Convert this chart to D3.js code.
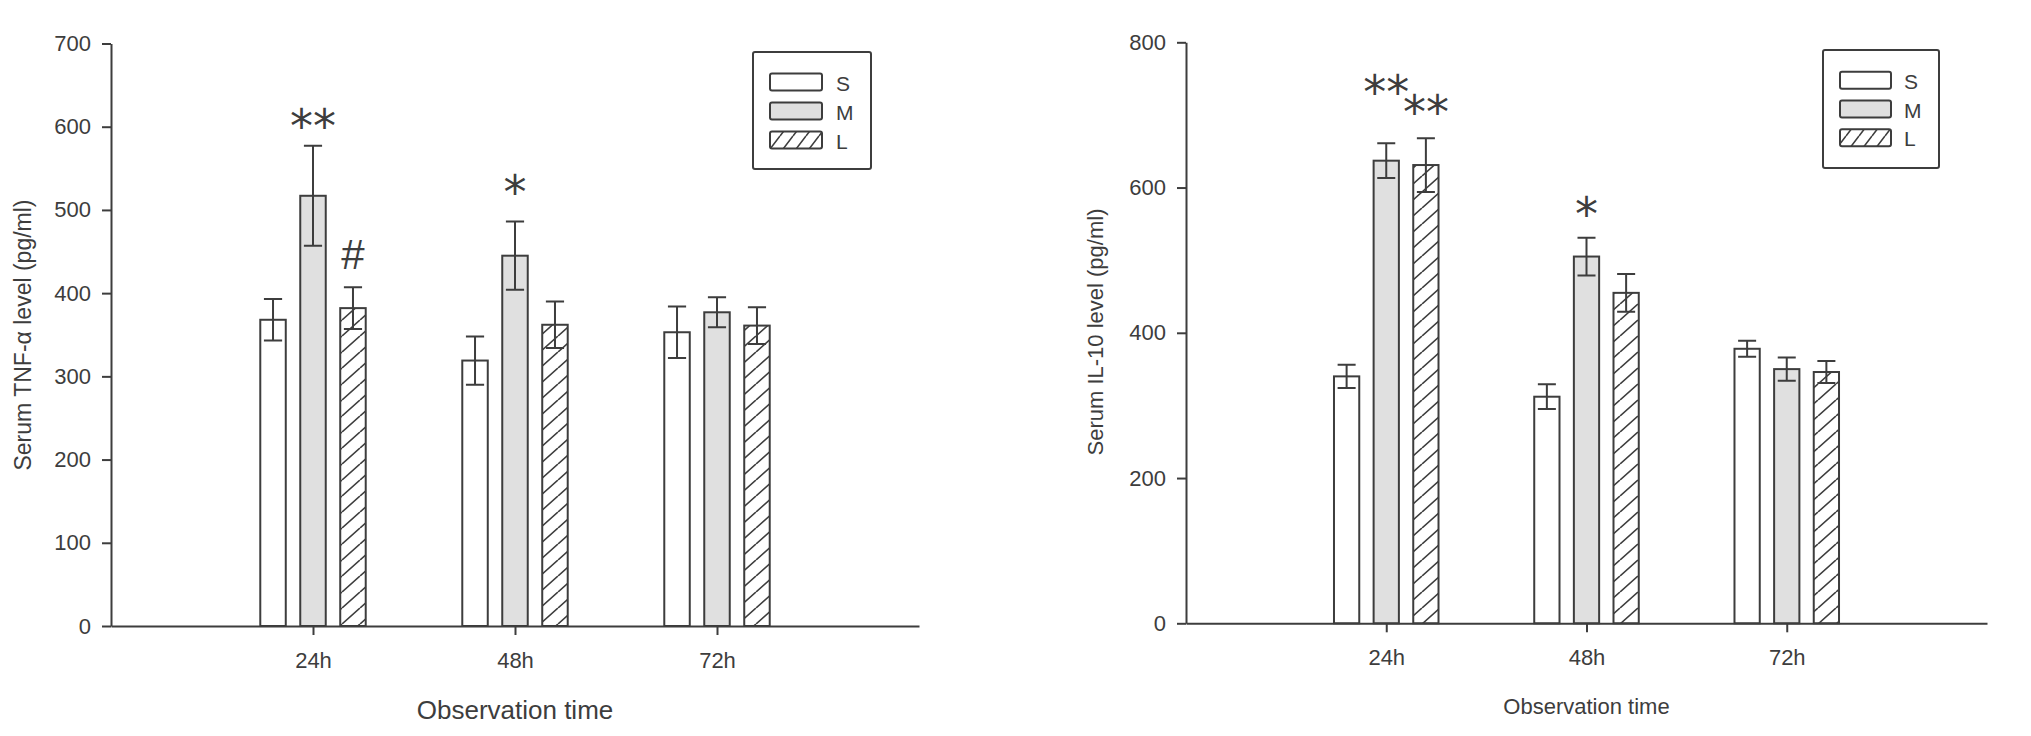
<!DOCTYPE html>
<html>
<head>
<meta charset="utf-8">
<script src="https://cdn.jsdelivr.net/npm/d3@7/dist/d3.min.js"></script>
<style>
  html, body { margin: 0; padding: 0; background: #fff; }
  svg { display: block; }
  text { font-family: "Liberation Sans", Arial, sans-serif; fill: #3d3d3d; }
</style>
</head>
<body>
<svg id="chart" width="2031" height="736"></svg>
<script>
// ---------------- data ----------------
const categories = ["24h", "48h", "72h"];
const groups = ["S", "M", "L"];

// Serum TNF-α (pg/ml)
const tnfS = [368, 319, 353];
const tnfSErr = [25, 29, 31];
const tnfM = [517, 445, 377];
const tnfMErr = [60, 41, 18];
const tnfL = [382, 362, 361];
const tnfLErr = [25, 28, 22];
const tnfTicks = [0, 100, 200, 300, 400, 500, 600, 700];
// significance marks: [category, group, symbol, level (pg/ml) of mark centre]
const tnfMarks = [["24h", "M", "**", 611], ["24h", "L", "#", 447], ["48h", "M", "*", 531]];

// Serum IL-10 (pg/ml)
const il10S = [340, 312, 378];
const il10SErr = [16, 17, 11];
const il10M = [637, 505, 350];
const il10MErr = [24, 26, 16];
const il10L = [631, 455, 346];
const il10LErr = [37, 26, 15];
const il10Ticks = [0, 200, 400, 600, 800];
const il10Marks = [["24h", "M", "**", 743], ["24h", "L", "**", 715], ["48h", "M", "*", 574]];

// ---------------- drawing ----------------
const svg = d3.select("#chart");
const INK = "#3d3d3d";
const GRAY = "#e0e0e0";

const defs = svg.append("defs");
const pat = defs.append("pattern")
  .attr("id", "hatch").attr("patternUnits", "userSpaceOnUse")
  .attr("width", 18).attr("height", 16);
pat.append("rect").attr("width", 18).attr("height", 16).attr("fill", "#fff");
pat.append("path")
  .attr("d", "M-18,16 L0,0 M0,16 L18,0 M18,16 L36,0")
  .attr("stroke", INK).attr("stroke-width", 1.6).attr("fill", "none");

const patL = defs.append("pattern")
  .attr("id", "hatchLeg").attr("patternUnits", "userSpaceOnUse")
  .attr("width", 13).attr("height", 17);
patL.append("rect").attr("width", 13).attr("height", 17).attr("fill", "#fff");
patL.append("path")
  .attr("d", "M-13,17 L0,0 M0,17 L13,0 M13,17 L26,0")
  .attr("stroke", INK).attr("stroke-width", 1.6).attr("fill", "none");

const fills = { S: "#fff", M: GRAY, L: "url(#hatch)" };
const legFills = { S: "#fff", M: GRAY, L: "url(#hatchLeg)" };

const measureCtx = document.createElement("canvas").getContext("2d");
function inkCenterBaseline(str, font, cy) {
  measureCtx.font = font;
  const m = measureCtx.measureText(str);
  return cy + (m.actualBoundingBoxAscent - m.actualBoundingBoxDescent) / 2;
}

function drawChart(cfg) {
  const g = svg.append("g");
  const x = d3.scaleLinear().domain([0, 4]).range(cfg.xRange);
  const y = d3.scaleLinear().domain([0, cfg.yMax]).range(cfg.yRange);
  const sub = d3.scaleBand().domain(groups).range([-0.261, 0.261]).paddingInner(0.3625);
  const bw = x(sub.bandwidth()) - x(0);
  const capHalf = 0.045;

  // bars
  cfg.series.forEach(s => {
    g.append("g").selectAll("rect").data(s.mean).join("rect")
      .attr("x", (d, i) => x(i + 1 + sub(s.key)))
      .attr("y", d => y(d))
      .attr("width", bw)
      .attr("height", d => y(0) - y(d))
      .attr("fill", fills[s.key])
      .attr("stroke", INK).attr("stroke-width", 2);
  });
  // error bars
  cfg.series.forEach(s => {
    const eg = g.append("g").attr("stroke", INK).attr("stroke-width", 2).attr("fill", "none");
    s.mean.forEach((m, i) => {
      const c = i + 1 + sub(s.key) + sub.bandwidth() / 2;
      const e = s.err[i];
      const p = d3.path();
      p.moveTo(x(c), y(m + e)); p.lineTo(x(c), y(m - e));
      p.moveTo(x(c - capHalf), y(m + e)); p.lineTo(x(c + capHalf), y(m + e));
      p.moveTo(x(c - capHalf), y(m - e)); p.lineTo(x(c + capHalf), y(m - e));
      eg.append("path").attr("d", p.toString());
    });
  });

  // axes
  const yAxis = g.append("g").attr("transform", `translate(${cfg.xRange[0]},0)`)
    .call(d3.axisLeft(y).tickValues(cfg.ticks).tickSize(9).tickPadding(11).tickSizeOuter(0));
  const xAxis = g.append("g").attr("transform", `translate(0,${cfg.yRange[0]})`)
    .call(d3.axisBottom(x).tickValues([1, 2, 3]).tickFormat(i => categories[i - 1])
      .tickSize(9).tickPadding(17).tickSizeOuter(0));
  [yAxis, xAxis].forEach(a => {
    a.selectAll("path.domain").attr("stroke", INK).attr("stroke-width", 2);
    a.selectAll(".tick line").attr("stroke", INK).attr("stroke-width", 2);
    a.selectAll(".tick text").attr("fill", INK).style("font-size", "22px")
      .style("font-family", "'Liberation Sans', Arial, sans-serif");
  });

  // axis titles
  g.append("text")
    .attr("transform", `translate(${cfg.yLabelX},${cfg.yLabelY}) rotate(-90)`)
    .attr("text-anchor", "middle").attr("dominant-baseline", "central")
    .style("font-size", cfg.yLabelSize + "px").text(cfg.yLabel);
  g.append("text")
    .attr("x", x(2)).attr("y", cfg.xLabelY)
    .attr("text-anchor", "middle").attr("dominant-baseline", "central")
    .style("font-size", cfg.xLabelSize + "px").text("Observation time");

  // significance marks
  cfg.marks.forEach(([cat, grp, sym, lvl]) => {
    const ci = categories.indexOf(cat) + 1;
    const cx = x(ci + sub(grp) + sub.bandwidth() / 2);
    const isHash = sym === "#";
    const fam = isHash ? "'Liberation Sans'" : "'DejaVu Sans'";
    const size = isHash ? 42 : 46;
    const font = `${size}px ${fam}`;
    g.append("text")
      .attr("x", cx).attr("y", inkCenterBaseline(sym, font, y(lvl)))
      .attr("text-anchor", "middle")
      .style("font-family", fam).style("font-size", size + "px")
      .attr("fill", "#222").text(sym);
  });

  // legend
  const L = cfg.legend;
  const lg = g.append("g");
  lg.append("rect").attr("x", L.x).attr("y", L.y).attr("width", L.w).attr("height", L.h)
    .attr("rx", 2).attr("fill", "#fff").attr("stroke", INK).attr("stroke-width", 2);
  groups.forEach((k, j) => {
    const sy = L.swY + j * L.swStep;
    lg.append("rect").attr("x", L.swX).attr("y", sy).attr("width", L.swW).attr("height", L.swH)
      .attr("rx", 2).attr("fill", legFills[k]).attr("stroke", INK).attr("stroke-width", 2);
    lg.append("text").attr("x", L.labelX).attr("y", sy + L.swH / 2 + 1)
      .attr("dominant-baseline", "central").style("font-size", "21px").text(k);
  });
}

drawChart({
  xRange: [111, 919], yRange: [626, 43.5], yMax: 700, ticks: tnfTicks,
  series: [
    { key: "S", mean: tnfS, err: tnfSErr },
    { key: "M", mean: tnfM, err: tnfMErr },
    { key: "L", mean: tnfL, err: tnfLErr }
  ],
  marks: tnfMarks,
  yLabel: "Serum TNF-\u03b1 level (pg/ml)", yLabelX: 23, yLabelY: 335, yLabelSize: 23,
  xLabelY: 710, xLabelSize: 26,
  legend: { x: 753, y: 52, w: 118, h: 117, swX: 770, swY: 73.5, swStep: 29, swW: 52, swH: 17, labelX: 836 }
});

drawChart({
  xRange: [1186, 1987], yRange: [623.3, 42.3], yMax: 800, ticks: il10Ticks,
  series: [
    { key: "S", mean: il10S, err: il10SErr },
    { key: "M", mean: il10M, err: il10MErr },
    { key: "L", mean: il10L, err: il10LErr }
  ],
  marks: il10Marks,
  yLabel: "Serum IL-10 level (pg/ml)", yLabelX: 1095, yLabelY: 332, yLabelSize: 22,
  xLabelY: 706, xLabelSize: 22,
  legend: { x: 1823, y: 50, w: 116, h: 118, swX: 1840, swY: 71.7, swStep: 28.8, swW: 51, swH: 17, labelX: 1904 }
});
</script>
</body>
</html>
